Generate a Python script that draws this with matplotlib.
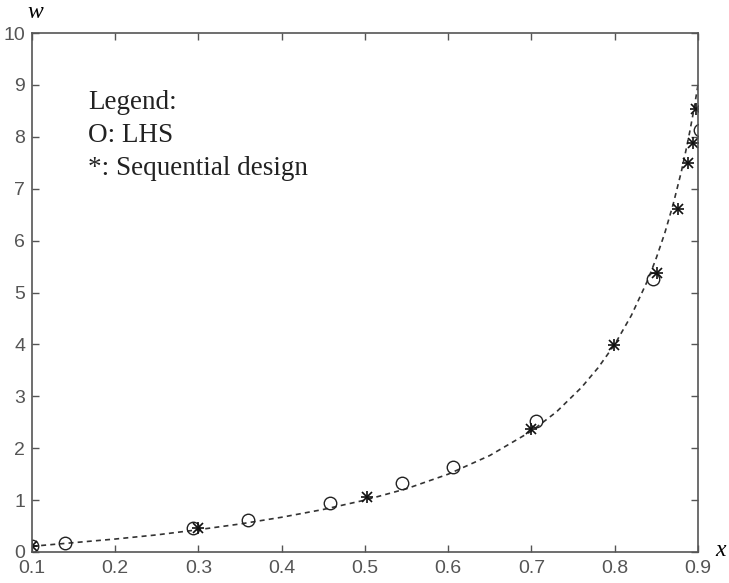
import matplotlib
matplotlib.use('Agg')
from matplotlib import pyplot as plt

# dashed reference curve
curve_x = [0.10, 0.15, 0.20, 0.25, 0.30, 0.35, 0.40, 0.45, 0.50, 0.55, 0.60,
           0.65, 0.70, 0.73, 0.76, 0.78, 0.80, 0.82, 0.84, 0.85, 0.86, 0.87,
           0.88, 0.885, 0.89, 0.895, 0.90]
curve_w = [0.11, 0.18, 0.25, 0.33, 0.43, 0.54, 0.67, 0.82, 1.00, 1.22, 1.50,
           1.86, 2.33, 2.70, 3.17, 3.55, 4.00, 4.56, 5.25, 5.67, 6.14, 6.69,
           7.33, 7.70, 8.09, 8.52, 9.00]

# LHS points (circles)
lhs_x = [0.100, 0.140, 0.293, 0.360, 0.458, 0.545, 0.606, 0.705, 0.846, 0.902]
lhs_w = [0.11, 0.17, 0.46, 0.62, 0.94, 1.33, 1.64, 2.52, 5.26, 8.13]

# sequential design points (asterisks)
seq_x = [0.100, 0.300, 0.502, 0.699, 0.799, 0.851, 0.876, 0.888, 0.894, 0.897]
seq_w = [0.11, 0.46, 1.06, 2.37, 3.99, 5.38, 6.61, 7.50, 7.88, 8.53]

xticks = [0.1, 0.2, 0.3, 0.4, 0.5, 0.6, 0.7, 0.8, 0.9]
yticks = list(range(0, 11))
legend_lines = ['Legend:', 'O: LHS', '*: Sequential design']

fig = plt.figure(figsize=(7.29, 5.83), dpi=100)
ax = fig.add_axes([32 / 729, 1 - 552 / 583, 666 / 729, 519 / 583])

ax.plot(curve_x, curve_w, color='#333333', linestyle=(0, (3, 2.5)), linewidth=1.2)
ax.plot(lhs_x, lhs_w, linestyle='none', marker='o', markersize=9,
        markerfacecolor='none', markeredgecolor='#222222', markeredgewidth=1.0)
# matlab style '*' = plus over cross
ax.plot(seq_x, seq_w, linestyle='none', marker='+', markersize=9,
        color='#111111', markeredgewidth=1.2)
ax.plot(seq_x, seq_w, linestyle='none', marker='x', markersize=6.5,
        color='#111111', markeredgewidth=1.2)

ax.set_xlim(0.1, 0.9)
ax.set_ylim(0, 10)
ax.set_xticks(xticks)
ax.set_xticklabels([str(t) for t in xticks])
ax.set_yticks(yticks)
ax.tick_params(direction='in', length=5, width=1, top=True, right=True,
               labelsize=14, labelcolor='#555555', color='#555555', pad=5)
ax.tick_params(axis='x', pad=6)
for lab in ax.get_xticklabels() + ax.get_yticklabels():
    lab.set_fontfamily(['Liberation Sans', 'DejaVu Sans'])
for s in ax.spines.values():
    s.set_color('#555555')
    s.set_linewidth(1.2)

# axis names as in the figure
fig.text(35 / 729, 1 - 12 / 583, 'w', fontfamily='Liberation Serif', fontstyle='italic',
         fontsize=17, ha='center', va='center')
fig.text(721 / 729, 1 - 550 / 583, 'x', fontfamily='Liberation Serif', fontstyle='italic',
         fontsize=17, ha='center', va='center')

# hand-written legend text
for i, line in enumerate(legend_lines):
    fig.text(88 / 729, 1 - (109 + 33 * i) / 583, line, fontfamily='Liberation Serif',
             fontsize=19.5, va='baseline', ha='left', color='#222222')

fig.savefig('out.png', dpi=100)
